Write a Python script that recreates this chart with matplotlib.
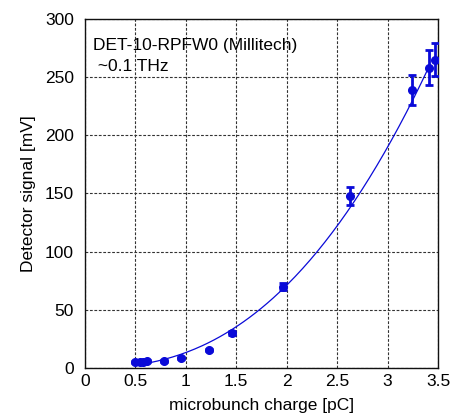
import matplotlib
matplotlib.use('Agg')
import matplotlib.pyplot as plt
import numpy as np

plt.rcParams['font.family'] = ['Liberation Sans', 'DejaVu Sans']

# measured detector signal vs. microbunch charge
charge = [0.50, 0.55, 0.58, 0.61, 0.78, 0.95, 1.23, 1.46, 1.96, 2.63, 3.24, 3.41, 3.47]
signal = [5.2, 4.9, 5.5, 5.8, 6.0, 8.3, 15.7, 30.1, 70.0, 148.0, 239.0, 258.0, 265.0]
signal_err = [1.0, 1.0, 1.0, 1.0, 1.0, 1.0, 1.0, 1.5, 3.0, 8.0, 12.5, 15.0, 14.0]

# power-law fit  y = a * q^b
fit_a = 13.3
fit_b = 2.42
fit_range = (0.5, 3.42)

xticks = [0, 0.5, 1, 1.5, 2, 2.5, 3, 3.5]
xticklabels = ['0', '0.5', '1', '1.5', '2', '2.5', '3', '3.5']
yticks = [0, 50, 100, 150, 200, 250, 300]

blue = '#0a0ad8'
fs = 12.5

fig = plt.figure(figsize=(4.54, 4.15), dpi=100)
ax = fig.add_axes([0.1872, 0.1133, 0.7776, 0.8409])

q = np.linspace(fit_range[0], fit_range[1], 200)
ax.plot(q, fit_a * q ** fit_b, color=blue, lw=0.9, zorder=3)

ax.errorbar(charge, signal, yerr=signal_err, fmt='o', color=blue, ms=5.5,
            elinewidth=2, capsize=3, capthick=2, zorder=4)

ax.set_xlim(0, 3.5)
ax.set_ylim(0, 300)
ax.set_xticks(xticks)
ax.set_xticklabels(xticklabels)
ax.set_yticks(yticks)
ax.tick_params(axis='y', length=0, labelsize=fs, pad=8)
ax.tick_params(axis='x', length=0, labelsize=fs, pad=4)
ax.grid(True, color='#333333', linestyle=(0, (2.5, 1.5)), linewidth=0.8)
for s in ax.spines.values():
    s.set_linewidth(1.0)
    s.set_color('#111111')

ax.set_xlabel('microbunch charge [pC]', fontsize=fs, labelpad=7)
ax.set_ylabel('Detector signal [mV]', fontsize=fs, labelpad=6)

ax.text(0.022, 0.945, 'DET-10-RPFW0 (Millitech)\n ~0.1 THz', transform=ax.transAxes,
        fontsize=fs, va='top', ha='left', linespacing=1.45)

fig.savefig('out.png', dpi=100)
